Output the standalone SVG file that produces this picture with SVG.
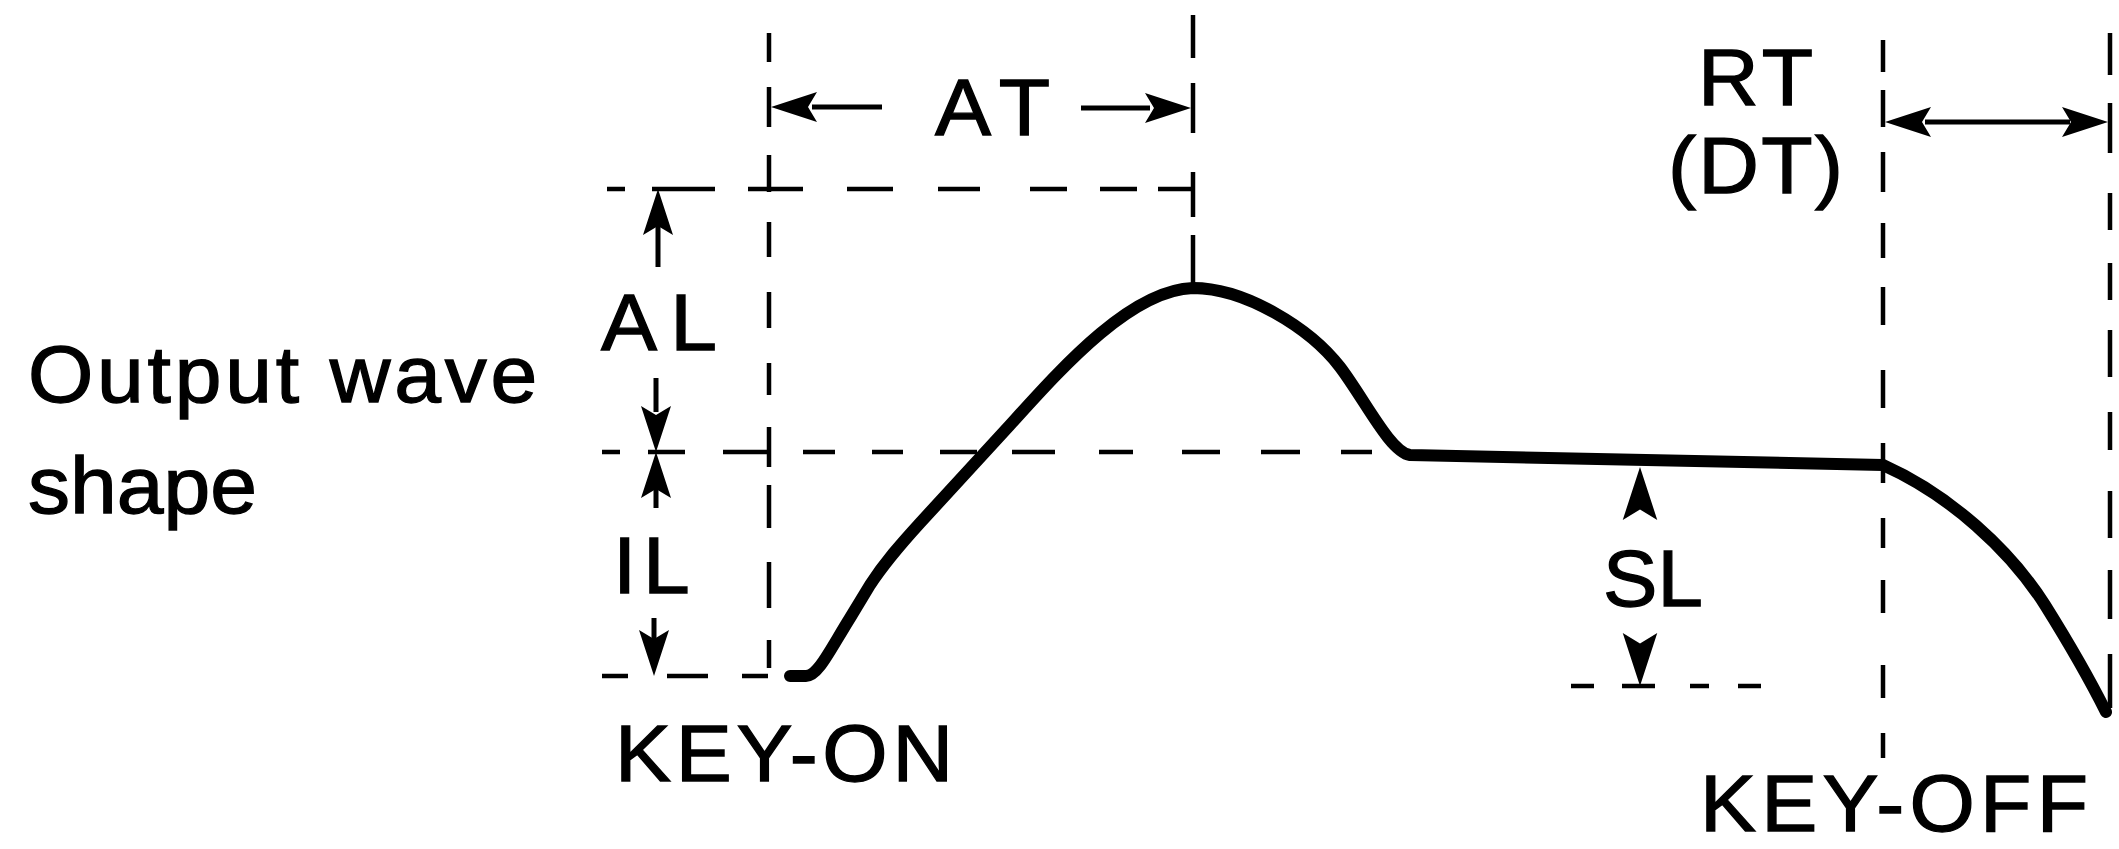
<svg xmlns="http://www.w3.org/2000/svg" xmlns:xlink="http://www.w3.org/1999/xlink" width="2119" height="849" viewBox="0 0 2119 849">
<style>
.bg{fill:#fff}
.dash{fill:none;stroke:#000;stroke-width:4.5;stroke-linecap:butt}
.shaft{fill:none;stroke:#000;stroke-width:5}
.wave{fill:none;stroke:#000;stroke-width:12;stroke-linejoin:round;stroke-linecap:round}
.lbl{font-family:"Liberation Sans",Arial,sans-serif;font-size:80px;fill:#000;stroke:#000;stroke-width:1.3}
</style>
<defs>
<path id="ah" d="M0 0 L-15 46 L0 37 L15 46 Z" fill="#000"/>
</defs>
<rect class="bg" x="0" y="0" width="2119" height="849"/>

<g id="guides">
<path class="dash" d="M769 33V62M769 87V127M769 155V192M769 222V257M769 292V328M769 363V395M769 427V467M769 485V528M769 562V608M769 640V668"/>
<path class="dash" d="M1193 15V58M1193 83V133M1193 172V217M1193 235V285"/>
<path class="dash" d="M607 189H625M652 189H715M748 189H803M847 189H893M938 189H980M1030 189H1067M1100 189H1137M1158 189H1193"/>
<path class="dash" d="M602 452H620M648 452H685M723 452H769M803 452H835M872 452H903M940 452H977M1012 452H1055M1099 452H1133M1182 452H1220M1261 452H1300M1341 452H1372"/>
<path class="dash" d="M602 676H628M667 676H708M742 676H768"/>
<path class="dash" d="M1571 686H1594M1622 686H1655M1690 686H1709M1738 686H1761"/>
<path class="dash" d="M1883 40V72M1883 90V127M1883 152V192M1883 223V258M1883 287V325M1883 370V408M1883 443V483M1883 518V548M1883 580V613M1883 665V698M1883 733V758"/>
<path class="dash" d="M2110 33V75M2110 103V153M2110 193V230M2110 263V300M2110 330V377M2110 412V450M2110 491V538M2110 570V619M2110 654V708"/>
</g>

<g id="waveform">
<path class="wave" d="M790 676 L806 676 C818 676 830 650 850 618 L870 585 C885 562 900 545 920 523 L1010 425 C1060 370 1130 290 1193 288 C1245 288 1310 328 1340 367 C1365 400 1390 452 1410 455 L1883 465 C1950 495 2010 550 2045 605 C2070 645 2090 680 2106 712"/>
</g>

<g id="connectors">
<g id="at-arrow">
<line class="shaft" x1="812" y1="107" x2="882" y2="107"/>
<use xlink:href="#ah" transform="translate(771 107) rotate(-90)"/>
<line class="shaft" x1="1081" y1="108" x2="1150" y2="108"/>
<use xlink:href="#ah" transform="translate(1191 108) rotate(90)"/>
</g>
<g id="rt-arrow">
<line class="shaft" x1="1925" y1="122" x2="2070" y2="122"/>
<use xlink:href="#ah" transform="translate(1885 122) rotate(-90)"/>
<use xlink:href="#ah" transform="translate(2108 122) rotate(90)"/>
</g>
<g id="al-arrows">
<use xlink:href="#ah" transform="translate(658 189)"/>
<line class="shaft" x1="658" y1="225" x2="658" y2="267"/>
<line class="shaft" x1="656" y1="378" x2="656" y2="412"/>
<use xlink:href="#ah" transform="translate(656 452) rotate(180)"/>
</g>
<g id="il-arrows">
<use xlink:href="#ah" transform="translate(656 452)"/>
<line class="shaft" x1="656" y1="485" x2="656" y2="508"/>
<line class="shaft" x1="654" y1="618" x2="654" y2="640"/>
<use xlink:href="#ah" transform="translate(654 676) rotate(180)"/>
</g>
<g id="sl-arrows">
<use xlink:href="#ah" transform="translate(1640 467) scale(1.15)"/>
<use xlink:href="#ah" transform="translate(1640 686) rotate(180) scale(1.15)"/>
</g>
</g>

<g id="label-output"><text class="lbl" transform="translate(28 402) scale(1.05 1)" textLength="485" lengthAdjust="spacing">Output wave</text>
<text class="lbl" transform="translate(28 513) scale(1.05 1)">shape</text></g>
<g id="label-at"><text class="lbl" transform="translate(935 135) scale(1.05 1)" textLength="109.5" lengthAdjust="spacing">AT</text></g>
<g id="label-al"><text class="lbl" transform="translate(601 350) scale(1.05 1)" textLength="110.5" lengthAdjust="spacing">AL</text></g>
<g id="label-il"><text class="lbl" transform="translate(613 593) scale(1.05 1)" textLength="73" lengthAdjust="spacing">IL</text></g>
<g id="label-sl"><text class="lbl" transform="translate(1603 606) scale(1.02 1)">SL</text></g>
<g id="label-rt"><text class="lbl" transform="translate(1698 105) scale(1.05 1)" textLength="109.5" lengthAdjust="spacing">RT</text>
<text class="lbl" transform="translate(1668 193) scale(1.05 1)" textLength="166.7" lengthAdjust="spacing">(DT)</text></g>
<g id="label-keyon"><text class="lbl" transform="translate(615 781) scale(1.05 1)" textLength="322" lengthAdjust="spacing">KEY-ON</text></g>
<g id="label-keyoff"><text class="lbl" transform="translate(1700 831) scale(1.05 1)" textLength="369.5" lengthAdjust="spacing">KEY-OFF</text></g>
</svg>
